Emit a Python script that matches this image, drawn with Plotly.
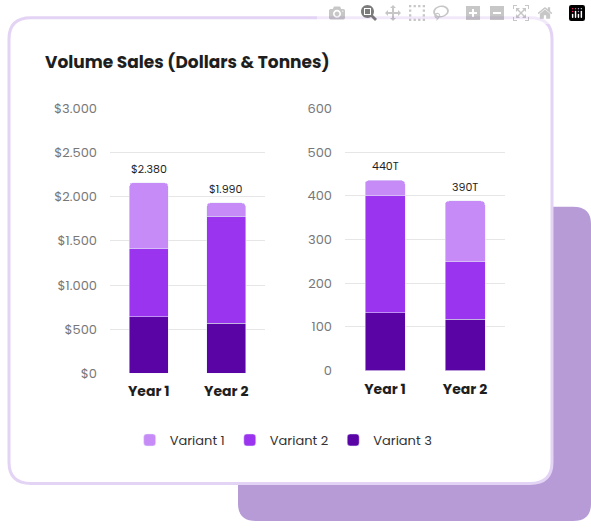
import plotly.graph_objects as go

W, H = 591, 531
years = ["Year 1", "Year 2"]
variants = ["Variant 1", "Variant 2", "Variant 3"]
colors = {"Variant 1": "#c78bf8", "Variant 2": "#9b34ef", "Variant 3": "#5a04a6"}

# dollars (stack from bottom: Variant 3, Variant 2, Variant 1)
dollars = {"Variant 3": [640, 570], "Variant 2": [770, 1210], "Variant 1": [750, 150]}
dollar_labels = ["$2.380", "$1.990"]
dollar_ticks = [0, 500, 1000, 1500, 2000, 2500, 3000]
dollar_ticktext = ["$0", "$500", "$1.000", "$1.500", "$2.000", "$2.500", "$3.000"]

tonnes = {"Variant 3": [132, 118], "Variant 2": [268, 131], "Variant 1": [35, 139]}
tonne_labels = ["440T", "390T"]
tonne_ticks = [0, 100, 200, 300, 400, 500, 600]


def rrect(x0, y0, x1, y1, r):
    # rounded rect in pixels -> paper coords
    px = lambda x: x / W
    py = lambda y: 1 - y / H
    return (f"M {px(x0+r)},{py(y0)} L {px(x1-r)},{py(y0)} Q {px(x1)},{py(y0)} {px(x1)},{py(y0+r)} "
            f"L {px(x1)},{py(y1-r)} Q {px(x1)},{py(y1)} {px(x1-r)},{py(y1)} "
            f"L {px(x0+r)},{py(y1)} Q {px(x0)},{py(y1)} {px(x0)},{py(y1-r)} "
            f"L {px(x0)},{py(y0+r)} Q {px(x0)},{py(y0)} {px(x0+r)},{py(y0)} Z")


fig = go.Figure()
for v in ["Variant 3", "Variant 2", "Variant 1"]:
    fig.add_trace(go.Bar(x=years, y=dollars[v], name=v, marker_color=colors[v],
                         legendgroup=v, showlegend=False, xaxis="x", yaxis="y"))
for v in ["Variant 3", "Variant 2", "Variant 1"]:
    fig.add_trace(go.Bar(x=years, y=tonnes[v], name=v, marker_color=colors[v],
                         legendgroup=v, showlegend=False, xaxis="x2", yaxis="y2"))
for v in variants:
    fig.add_trace(go.Bar(x=[None], y=[None], name=v, marker_color=colors[v], xaxis="x", yaxis="y"))

ann = [dict(text="<b>Volume Sales (Dollars & Tonnes)</b>", x=43 / W, y=1 - 55 / H, xref="paper",
            yref="paper", xanchor="left", yanchor="middle", showarrow=False,
            font=dict(size=17, color="#1e1e1e"))]
for i, yr in enumerate(years):
    tot = sum(dollars[v][i] for v in variants)
    ann.append(dict(text=dollar_labels[i], x=yr, y=tot, xref="x", yref="y", yanchor="bottom",
                    yshift=4, showarrow=False, font=dict(size=11, color="#1e1e1e")))
    tot = sum(tonnes[v][i] for v in variants)
    ann.append(dict(text=tonne_labels[i], x=yr, y=tot, xref="x2", yref="y2", yanchor="bottom",
                    yshift=4, showarrow=False, font=dict(size=11, color="#1e1e1e")))

fig.update_layout(
    width=W, height=H, margin=dict(l=0, r=0, t=0, b=0),
    paper_bgcolor="white", plot_bgcolor="rgba(0,0,0,0)",
    font=dict(family="Poppins, Inter, sans-serif"),
    barmode="stack", bargap=0.5, barcornerradius=4,
    xaxis=dict(domain=[110 / W, 265 / W], tickfont=dict(size=14, color="#1e1e1e"),
               tickvals=years, ticktext=["<b>%s</b>" % y for y in years], showgrid=False,
               ticklabelstandoff=8),
    yaxis=dict(domain=[1 - 378 / H, 1 - 103 / H], range=[0, 3000], tickvals=dollar_ticks,
               ticktext=dollar_ticktext, gridcolor="#e6e6e6", zeroline=False,
               tickfont=dict(size=13, color="#777777"), ticklabelstandoff=12),
    xaxis2=dict(domain=[345 / W, 505 / W], anchor="y2", tickfont=dict(size=14, color="#1e1e1e"),
                tickvals=years, ticktext=["<b>%s</b>" % y for y in years], showgrid=False,
                ticklabelstandoff=8),
    yaxis2=dict(domain=[1 - 375 / H, 1 - 103 / H], range=[0, 600], tickvals=tonne_ticks,
                anchor="x2", gridcolor="#e6e6e6", zeroline=False,
                tickfont=dict(size=13, color="#777777"), ticklabelstandoff=12),
    legend=dict(orientation="h", x=0.48, xanchor="center", y=1 - 447 / H, yanchor="middle",
                font=dict(size=13, color="#333333"), traceorder="normal"),
    annotations=ann,
    shapes=[
        dict(type="path", path=rrect(238, 205, 591, 531, 18), xref="paper", yref="paper",
             fillcolor="#b69bd6", line_width=0, layer="below"),
        dict(type="path", path=rrect(9, 9, 552, 492, 22), xref="paper", yref="paper",
             fillcolor="white", line=dict(color="#e3d3f4", width=3), layer="below"),
    ],
)
fig.write_html("out.html")

# drop the default page margin so the figure sits at the window corner
with open("out.html", encoding="utf-8") as f:
    page = f.read()
page = page.replace("<head>", "<head><style>body{margin:0;overflow:hidden}</style>", 1)
with open("out.html", "w", encoding="utf-8") as f:
    f.write(page)
